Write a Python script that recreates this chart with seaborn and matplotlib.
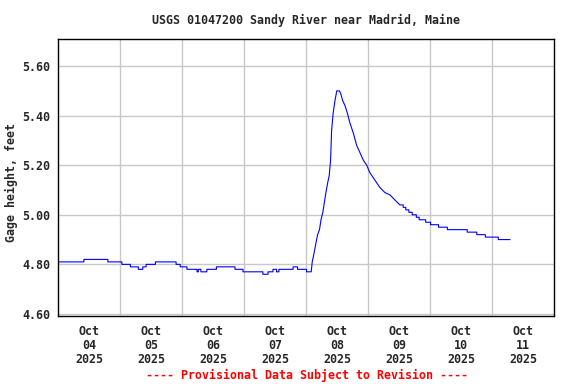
import numpy as np
import pandas as pd
import matplotlib
matplotlib.use("Agg")
import matplotlib.pyplot as plt
import matplotlib.dates as mdates
import seaborn as sns

# ----------------------------
# Data
# hours since 2025-10-04 00:00, gage height in feet
# ----------------------------
hours = [
    0, 9.9, 9.9, 19.2, 19.2, 24.6, 24.6, 27.9, 27.9, 31.0,
    31.0, 32.7, 32.7, 34.0, 34.0, 37.6, 37.6, 45.6, 45.6, 47.2,
    47.2, 49.8, 49.8, 53.7, 53.7, 54.2, 54.2, 55.2, 55.2, 57.5,
    57.5, 61.2, 61.2, 68.4, 68.4, 71.5, 71.5, 79.2, 79.2, 81.2,
    81.2, 83.1, 83.1, 84.5, 84.5, 85.4, 85.4, 90.9, 90.9, 92.6,
    92.6, 96.1, 96.1, 97.9,
    98.3, 99.1, 99.8, 100.4, 101.1, 101.7, 102.4, 103.0, 103.6, 104.3,
    104.9, 105.4, 105.8, 106.4, 107.1, 107.8, 108.8, 109.3, 110.1, 111.0,
    111.9, 112.9, 114.2, 115.5, 116.8, 118.1, 119.4, 120.6, 121.9, 123.2,
    124.5, 126.4, 128.4, 130.3, 132.2,
    133.5, 133.5, 134.5, 134.5, 135.7, 135.7, 137.0, 137.0, 138.6, 138.6,
    139.7, 139.7, 142.2, 142.2, 144.1, 144.1, 147.2, 147.2, 150.6, 150.6,
    158.3, 158.3, 162.0, 162.0, 165.3, 165.3, 170.3, 170.3, 174.9,
]
gage_ft = [
    4.81, 4.81, 4.82, 4.82, 4.81, 4.81, 4.80, 4.80, 4.79, 4.79,
    4.78, 4.78, 4.79, 4.79, 4.80, 4.80, 4.81, 4.81, 4.80, 4.80,
    4.79, 4.79, 4.78, 4.78, 4.77, 4.77, 4.78, 4.78, 4.77, 4.77,
    4.78, 4.78, 4.79, 4.79, 4.78, 4.78, 4.77, 4.77, 4.76, 4.76,
    4.77, 4.77, 4.78, 4.78, 4.77, 4.77, 4.78, 4.78, 4.79, 4.79,
    4.78, 4.78, 4.77, 4.77,
    4.81, 4.85, 4.89, 4.92, 4.94, 4.98, 5.01, 5.05, 5.09, 5.13,
    5.16, 5.22, 5.34, 5.41, 5.46, 5.50, 5.50, 5.49, 5.46, 5.44,
    5.41, 5.37, 5.33, 5.28, 5.25, 5.22, 5.20, 5.17, 5.15, 5.13,
    5.11, 5.09, 5.08, 5.06, 5.04,
    5.04, 5.03, 5.03, 5.02, 5.02, 5.01, 5.01, 5.00, 5.00, 4.99,
    4.99, 4.98, 4.98, 4.97, 4.97, 4.96, 4.96, 4.95, 4.95, 4.94,
    4.94, 4.93, 4.93, 4.92, 4.92, 4.91, 4.91, 4.90, 4.90,
]

y_ticks = [4.60, 4.80, 5.00, 5.20, 5.40, 5.60]
y_tick_labels = ["4.60", "4.80", "5.00", "5.20", "5.40", "5.60"]
day_labels = ["Oct\n04\n2025", "Oct\n05\n2025", "Oct\n06\n2025", "Oct\n07\n2025",
              "Oct\n08\n2025", "Oct\n09\n2025", "Oct\n10\n2025", "Oct\n11\n2025"]

start = pd.Timestamp("2025-10-04")
df = pd.DataFrame({
    "time": start + pd.to_timedelta(hours, unit="h"),
    "gage": gage_ft,
})

# ----------------------------
# Style
# ----------------------------
sns.set_style("white")
plt.rcParams["font.family"] = ["DejaVu Sans Mono"]
plt.rcParams["font.weight"] = "bold"
fs = 8.4

fig = plt.figure(figsize=(5.76, 3.84), dpi=100)
ax = fig.add_axes([0.1012, 0.1779, 0.8611, 0.7198])

sns.lineplot(data=df, x="time", y="gage", estimator=None, sort=False,
             color="#0000ff", linewidth=0.8, ax=ax)

ax.set_xlim(mdates.date2num(start), mdates.date2num(start + pd.Timedelta(days=8)))
ax.set_ylim(4.593, 5.708)

ax.set_yticks(y_ticks)
ax.set_yticklabels(y_tick_labels, fontsize=fs, fontweight="bold")

# gridlines at midnight, day labels at noon
midnights = [mdates.date2num(start + pd.Timedelta(days=d)) for d in range(1, 8)]
noons = [mdates.date2num(start + pd.Timedelta(hours=24 * d + 12)) for d in range(8)]
ax.set_xticks(midnights)
ax.set_xticklabels([""] * len(midnights))
ax.set_xticks(noons, minor=True)
ax.set_xticklabels(day_labels, minor=True, fontsize=fs, fontweight="bold",
                   linespacing=1.1)

ax.tick_params(axis="x", which="both", length=0, pad=7)
ax.tick_params(axis="y", length=0, pad=6)
ax.grid(True, which="major", color="#c8c8c8", linewidth=1)
ax.set_xlabel("")
ax.set_ylabel("")
for s in ax.spines.values():
    s.set_color("black")
    s.set_linewidth(1.0)

fig.text(0.531, 0.948, "USGS 01047200 Sandy River near Madrid, Maine",
         ha="center", va="center", fontsize=fs, fontweight="bold")
fig.text(0.0205, 0.526, "Gage height, feet", rotation=90,
         ha="center", va="center", fontsize=fs, fontweight="bold")
fig.text(0.533, 0.0234, "---- Provisional Data Subject to Revision ----",
         ha="center", va="center", fontsize=fs, fontweight="bold", color="red")

fig.savefig("out.png", dpi=100)
